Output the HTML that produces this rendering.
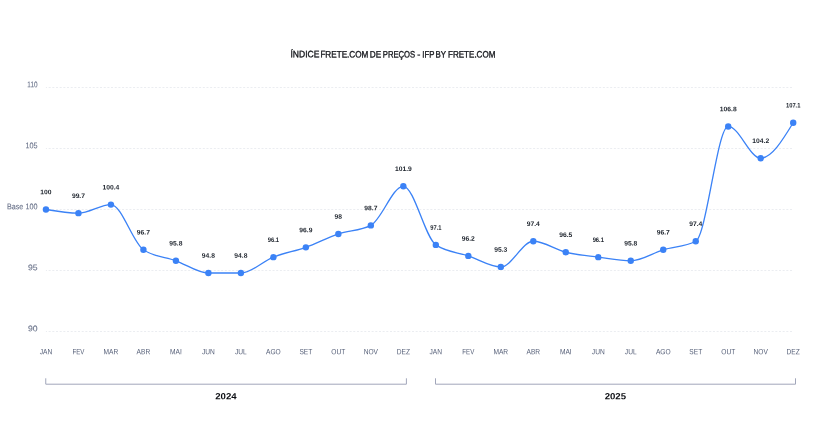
<!DOCTYPE html>
<html lang="pt-BR"><head><meta charset="utf-8"><title>Índice Frete.com de Preços</title>
<style>
html,body{margin:0;padding:0;background:#fff;}
body{width:813px;height:432px;overflow:hidden;font-family:"Liberation Sans",sans-serif;}
svg{display:block;}
text{font-family:"Liberation Sans",sans-serif;}
.title{font-size:9.3px;font-weight:400;fill:#15171c;stroke:#15171c;stroke-width:0.34px;}
.ylab{font-size:8.15px;fill:#687189;stroke:#687189;stroke-width:0.1px;}
.mon{font-size:7.6px;fill:#535d76;}
.val{font-size:6.6px;font-weight:700;fill:#222831;}
.year{font-size:8.9px;font-weight:700;fill:#0b0d12;}
.grid{stroke:#ebedf1;stroke-width:1;stroke-dasharray:2 1.67;stroke-dashoffset:0.9;fill:none;}
.br{stroke:#a1a6ba;stroke-width:1;fill:none;}
</style></head><body>
<svg width="813" height="432" viewBox="0 0 813 432">
<rect width="813" height="432" fill="#ffffff"/>

<text class="title" transform="rotate(0.05 392.7 57.45)" y="57.45"><tspan x="290.5" textLength="28.9" lengthAdjust="spacingAndGlyphs">ÍNDICE</tspan> <tspan x="320.4" textLength="48.0" lengthAdjust="spacingAndGlyphs">FRETE.COM</tspan> <tspan x="369.8" textLength="11.4" lengthAdjust="spacingAndGlyphs">DE</tspan> <tspan x="382.8" textLength="32.4" lengthAdjust="spacingAndGlyphs">PREÇOS</tspan> <tspan x="417.2">-</tspan> <tspan x="422.3" textLength="12.0" lengthAdjust="spacingAndGlyphs">IFP</tspan> <tspan x="435.6" textLength="10.4" lengthAdjust="spacingAndGlyphs">BY</tspan> <tspan x="448.0" textLength="47.4" lengthAdjust="spacingAndGlyphs">FRETE.COM</tspan></text>
<line class="grid" x1="45.9" y1="87.5" x2="793" y2="87.5"/>
<text class="ylab" transform="rotate(0.05 27.3 87.15)" x="27.3" y="87.15" textLength="10.2" lengthAdjust="spacingAndGlyphs">110</text>
<line class="grid" x1="45.9" y1="148.5" x2="793" y2="148.5"/>
<text class="ylab" transform="rotate(0.05 25.4 148.15)" x="25.4" y="148.15" textLength="12.1" lengthAdjust="spacingAndGlyphs">105</text>
<line class="grid" x1="45.9" y1="209.5" x2="793" y2="209.5"/>
<text class="ylab" transform="rotate(0.05 6.9 209.15)" x="6.9" y="209.15" textLength="30.6" lengthAdjust="spacingAndGlyphs">Base 100</text>
<line class="grid" x1="45.9" y1="270.5" x2="793" y2="270.5"/>
<text class="ylab" transform="rotate(0.05 27.9 270.15)" x="27.9" y="270.15" textLength="9.6" lengthAdjust="spacingAndGlyphs">95</text>
<line class="grid" x1="45.9" y1="331.5" x2="793" y2="331.5"/>
<text class="ylab" transform="rotate(0.05 27.9 331.15)" x="27.9" y="331.15" textLength="9.6" lengthAdjust="spacingAndGlyphs">90</text>
<path d="M45.95,209.50C56.78,211.33,67.61,213.16,78.44,213.16C89.27,213.16,100.10,204.61,110.93,204.61C121.76,204.61,132.59,242.48,143.42,249.81C154.25,257.14,165.08,256.93,175.91,260.80C186.74,264.67,197.57,273.02,208.40,273.02C219.23,273.02,230.06,273.02,240.88,273.02C251.71,273.02,262.54,261.41,273.37,257.14C284.20,252.86,295.03,251.23,305.86,247.37C316.69,243.50,327.52,237.59,338.35,233.93C349.18,230.27,360.01,231.08,370.84,225.38C381.67,219.68,392.50,186.29,403.33,186.29C414.16,186.29,424.99,237.59,435.82,244.92C446.65,252.25,457.48,252.25,468.31,255.92C479.14,259.58,489.97,266.91,500.80,266.91C511.63,266.91,522.46,241.26,533.29,241.26C544.12,241.26,554.95,249.61,565.78,252.25C576.61,254.90,587.44,255.71,598.27,257.14C609.09,258.56,619.92,260.80,630.75,260.80C641.58,260.80,652.41,253.07,663.24,249.81C674.07,246.55,684.90,246.96,695.73,241.26C706.56,235.56,717.39,126.44,728.22,126.44C739.05,126.44,749.88,158.20,760.71,158.20C771.54,158.20,782.37,140.49,793.20,122.77" fill="none" stroke="#3b82f6" stroke-width="1.32" stroke-linejoin="round" stroke-linecap="round"/>
<circle cx="45.95" cy="209.50" r="3.2" fill="#3b82f6"/>
<circle cx="78.44" cy="213.16" r="3.2" fill="#3b82f6"/>
<circle cx="110.93" cy="204.61" r="3.2" fill="#3b82f6"/>
<circle cx="143.42" cy="249.81" r="3.2" fill="#3b82f6"/>
<circle cx="175.91" cy="260.80" r="3.2" fill="#3b82f6"/>
<circle cx="208.40" cy="273.02" r="3.2" fill="#3b82f6"/>
<circle cx="240.88" cy="273.02" r="3.2" fill="#3b82f6"/>
<circle cx="273.37" cy="257.14" r="3.2" fill="#3b82f6"/>
<circle cx="305.86" cy="247.37" r="3.2" fill="#3b82f6"/>
<circle cx="338.35" cy="233.93" r="3.2" fill="#3b82f6"/>
<circle cx="370.84" cy="225.38" r="3.2" fill="#3b82f6"/>
<circle cx="403.33" cy="186.29" r="3.2" fill="#3b82f6"/>
<circle cx="435.82" cy="244.92" r="3.2" fill="#3b82f6"/>
<circle cx="468.31" cy="255.92" r="3.2" fill="#3b82f6"/>
<circle cx="500.80" cy="266.91" r="3.2" fill="#3b82f6"/>
<circle cx="533.29" cy="241.26" r="3.2" fill="#3b82f6"/>
<circle cx="565.78" cy="252.25" r="3.2" fill="#3b82f6"/>
<circle cx="598.27" cy="257.14" r="3.2" fill="#3b82f6"/>
<circle cx="630.75" cy="260.80" r="3.2" fill="#3b82f6"/>
<circle cx="663.24" cy="249.81" r="3.2" fill="#3b82f6"/>
<circle cx="695.73" cy="241.26" r="3.2" fill="#3b82f6"/>
<circle cx="728.22" cy="126.44" r="3.2" fill="#3b82f6"/>
<circle cx="760.71" cy="158.20" r="3.2" fill="#3b82f6"/>
<circle cx="793.20" cy="122.77" r="3.2" fill="#3b82f6"/>
<text class="val" transform="translate(45.95,194.30) scale(1.020,1) rotate(0.05)" text-anchor="middle">100</text>
<text class="val" transform="translate(78.44,197.96) scale(1.020,1) rotate(0.05)" text-anchor="middle">99.7</text>
<text class="val" transform="translate(110.93,189.41) scale(1.020,1) rotate(0.05)" text-anchor="middle">100.4</text>
<text class="val" transform="translate(143.42,234.61) scale(1.020,1) rotate(0.05)" text-anchor="middle">96.7</text>
<text class="val" transform="translate(175.91,245.60) scale(1.020,1) rotate(0.05)" text-anchor="middle">95.8</text>
<text class="val" transform="translate(208.40,257.82) scale(1.020,1) rotate(0.05)" text-anchor="middle">94.8</text>
<text class="val" transform="translate(240.88,257.82) scale(1.020,1) rotate(0.05)" text-anchor="middle">94.8</text>
<text class="val" transform="translate(273.37,241.94) scale(0.880,1) rotate(0.05)" text-anchor="middle">96.1</text>
<text class="val" transform="translate(305.86,232.17) scale(1.020,1) rotate(0.05)" text-anchor="middle">96.9</text>
<text class="val" transform="translate(338.35,218.73) scale(1.020,1) rotate(0.05)" text-anchor="middle">98</text>
<text class="val" transform="translate(370.84,210.18) scale(1.020,1) rotate(0.05)" text-anchor="middle">98.7</text>
<text class="val" transform="translate(403.33,171.09) scale(1.020,1) rotate(0.05)" text-anchor="middle">101.9</text>
<text class="val" transform="translate(435.82,229.72) scale(0.880,1) rotate(0.05)" text-anchor="middle">97.1</text>
<text class="val" transform="translate(468.31,240.72) scale(1.020,1) rotate(0.05)" text-anchor="middle">96.2</text>
<text class="val" transform="translate(500.80,251.71) scale(1.020,1) rotate(0.05)" text-anchor="middle">95.3</text>
<text class="val" transform="translate(533.29,226.06) scale(1.020,1) rotate(0.05)" text-anchor="middle">97.4</text>
<text class="val" transform="translate(565.78,237.05) scale(1.020,1) rotate(0.05)" text-anchor="middle">96.5</text>
<text class="val" transform="translate(598.27,241.94) scale(0.880,1) rotate(0.05)" text-anchor="middle">96.1</text>
<text class="val" transform="translate(630.75,245.60) scale(1.020,1) rotate(0.05)" text-anchor="middle">95.8</text>
<text class="val" transform="translate(663.24,234.61) scale(1.020,1) rotate(0.05)" text-anchor="middle">96.7</text>
<text class="val" transform="translate(695.73,226.06) scale(1.020,1) rotate(0.05)" text-anchor="middle">97.4</text>
<text class="val" transform="translate(728.22,111.24) scale(1.020,1) rotate(0.05)" text-anchor="middle">106.8</text>
<text class="val" transform="translate(760.71,143.00) scale(1.020,1) rotate(0.05)" text-anchor="middle">104.2</text>
<text class="val" transform="translate(793.20,107.57) scale(0.880,1) rotate(0.05)" text-anchor="middle">107.1</text>
<text class="mon" transform="translate(45.95,354.2) scale(0.872,1) rotate(0.05)" text-anchor="middle">JAN</text>
<text class="mon" transform="translate(78.44,354.2) scale(0.810,1) rotate(0.05)" text-anchor="middle">FEV</text>
<text class="mon" transform="translate(110.93,354.2) scale(0.872,1) rotate(0.05)" text-anchor="middle">MAR</text>
<text class="mon" transform="translate(143.42,354.2) scale(0.872,1) rotate(0.05)" text-anchor="middle">ABR</text>
<text class="mon" transform="translate(175.91,354.2) scale(0.872,1) rotate(0.05)" text-anchor="middle">MAI</text>
<text class="mon" transform="translate(208.40,354.2) scale(0.872,1) rotate(0.05)" text-anchor="middle">JUN</text>
<text class="mon" transform="translate(240.88,354.2) scale(0.872,1) rotate(0.05)" text-anchor="middle">JUL</text>
<text class="mon" transform="translate(273.37,354.2) scale(0.872,1) rotate(0.05)" text-anchor="middle">AGO</text>
<text class="mon" transform="translate(305.86,354.2) scale(0.872,1) rotate(0.05)" text-anchor="middle">SET</text>
<text class="mon" transform="translate(338.35,354.2) scale(0.872,1) rotate(0.05)" text-anchor="middle">OUT</text>
<text class="mon" transform="translate(370.84,354.2) scale(0.872,1) rotate(0.05)" text-anchor="middle">NOV</text>
<text class="mon" transform="translate(403.33,354.2) scale(0.872,1) rotate(0.05)" text-anchor="middle">DEZ</text>
<text class="mon" transform="translate(435.82,354.2) scale(0.872,1) rotate(0.05)" text-anchor="middle">JAN</text>
<text class="mon" transform="translate(468.31,354.2) scale(0.810,1) rotate(0.05)" text-anchor="middle">FEV</text>
<text class="mon" transform="translate(500.80,354.2) scale(0.872,1) rotate(0.05)" text-anchor="middle">MAR</text>
<text class="mon" transform="translate(533.29,354.2) scale(0.872,1) rotate(0.05)" text-anchor="middle">ABR</text>
<text class="mon" transform="translate(565.78,354.2) scale(0.872,1) rotate(0.05)" text-anchor="middle">MAI</text>
<text class="mon" transform="translate(598.27,354.2) scale(0.872,1) rotate(0.05)" text-anchor="middle">JUN</text>
<text class="mon" transform="translate(630.75,354.2) scale(0.872,1) rotate(0.05)" text-anchor="middle">JUL</text>
<text class="mon" transform="translate(663.24,354.2) scale(0.872,1) rotate(0.05)" text-anchor="middle">AGO</text>
<text class="mon" transform="translate(695.73,354.2) scale(0.872,1) rotate(0.05)" text-anchor="middle">SET</text>
<text class="mon" transform="translate(728.22,354.2) scale(0.872,1) rotate(0.05)" text-anchor="middle">OUT</text>
<text class="mon" transform="translate(760.71,354.2) scale(0.872,1) rotate(0.05)" text-anchor="middle">NOV</text>
<text class="mon" transform="translate(793.20,354.2) scale(0.872,1) rotate(0.05)" text-anchor="middle">DEZ</text>
<path class="br" d="M45.75,378.3V384.2H406.4V378.3"/>
<path class="br" d="M435.5,378.3V384.2H795.5V378.3"/>
<text class="year" transform="translate(225.9,399.2) scale(1.08,1) rotate(0.05)" text-anchor="middle">2024</text>
<text class="year" transform="translate(615.3,399.2) scale(1.08,1) rotate(0.05)" text-anchor="middle">2025</text>
</svg></body></html>
